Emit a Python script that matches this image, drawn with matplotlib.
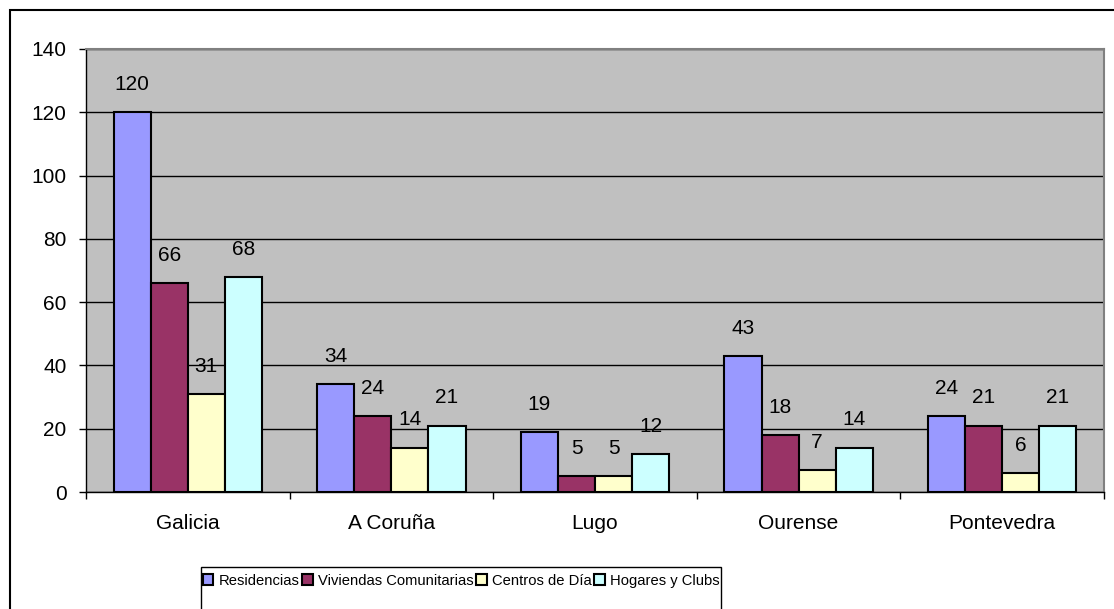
import numpy as np
import matplotlib
matplotlib.use("Agg")
import matplotlib.pyplot as plt
from matplotlib.patches import Rectangle, Patch

plt.rcParams['font.family'] = ['Liberation Sans', 'DejaVu Sans']

provinces = ["Galicia", "A Coruña", "Lugo", "Ourense", "Pontevedra"]
series_names = ["Residencias", "Viviendas Comunitarias", "Centros de Día", "Hogares y Clubs"]
residencias = [120, 34, 19, 43, 24]
viviendas = [66, 24, 5, 18, 21]
centros = [31, 14, 5, 7, 6]
hogares = [68, 21, 12, 14, 21]

colors = ["#9999FF", "#993366", "#FFFFCC", "#CCFFFF"]
W, H = 1114, 609

fig = plt.figure(figsize=(W / 100, H / 100), dpi=100)
ax = fig.add_axes([86 / W, 1 - 492 / H, (1104 - 86) / W, (492 - 49) / H])
ax.set_facecolor("#C0C0C0")

x = np.arange(len(provinces))
bw = 0.182
all_series = [residencias, viviendas, centros, hogares]
for j, vals in enumerate(all_series):
    pos = x + (j - 1.5) * bw
    ax.bar(pos, vals, width=bw, color=colors[j], edgecolor="black",
           linewidth=1.5, zorder=3, label=series_names[j])
    for px, v in zip(pos, vals):
        ax.annotate(str(v), (px, v), xytext=(0, 20), textcoords="offset points",
                    ha="center", va="center", fontsize=15, zorder=4)

ax.set_xlim(-0.5, 4.5)
ax.set_ylim(0, 140)
ax.set_yticks(range(0, 141, 20))
ax.yaxis.grid(True, color="black", linewidth=1.0, zorder=1)
ax.set_axisbelow(True)

ax.set_xticks(x)
ax.set_xticklabels(provinces, fontsize=15)
ax.tick_params(axis="x", which="major", length=0, pad=16)
ax.set_xticks(np.arange(-0.5, 5, 1), minor=True)
ax.tick_params(axis="x", which="minor", length=5, width=1, direction="out")
ax.tick_params(axis="y", length=5, width=1, direction="out", pad=9, labelsize=15)

for s in ["left", "bottom"]:
    ax.spines[s].set_color("black")
    ax.spines[s].set_linewidth(1.0)
for s in ["top", "right"]:
    ax.spines[s].set_color("#808080")
    ax.spines[s].set_linewidth(1.5)

# outer chart border (extends past right/bottom edges)
fig.patches.append(Rectangle((10 / W, -0.1), 1.2, 1 - 10 / H + 0.1,
                             transform=fig.transFigure, fill=False,
                             edgecolor="black", linewidth=1.5))
# legend box
fig.patches.append(Rectangle((201 / W, -0.1), (721 - 201) / W, 1 - 567 / H + 0.1,
                             transform=fig.transFigure, fill=False,
                             edgecolor="black", linewidth=1.0))

handles = [Patch(facecolor=c, edgecolor="black", linewidth=1.5) for c in colors]
leg = fig.legend(handles, series_names, loc="center left",
                 bbox_to_anchor=(203 / W, 1 - 581 / H), ncol=4, frameon=False,
                 fontsize=10.6, handlelength=0.7, handleheight=0.75,
                 handletextpad=0.35, columnspacing=0.2, borderaxespad=0,
                 borderpad=0.0)

fig.savefig("out.png", dpi=100)
